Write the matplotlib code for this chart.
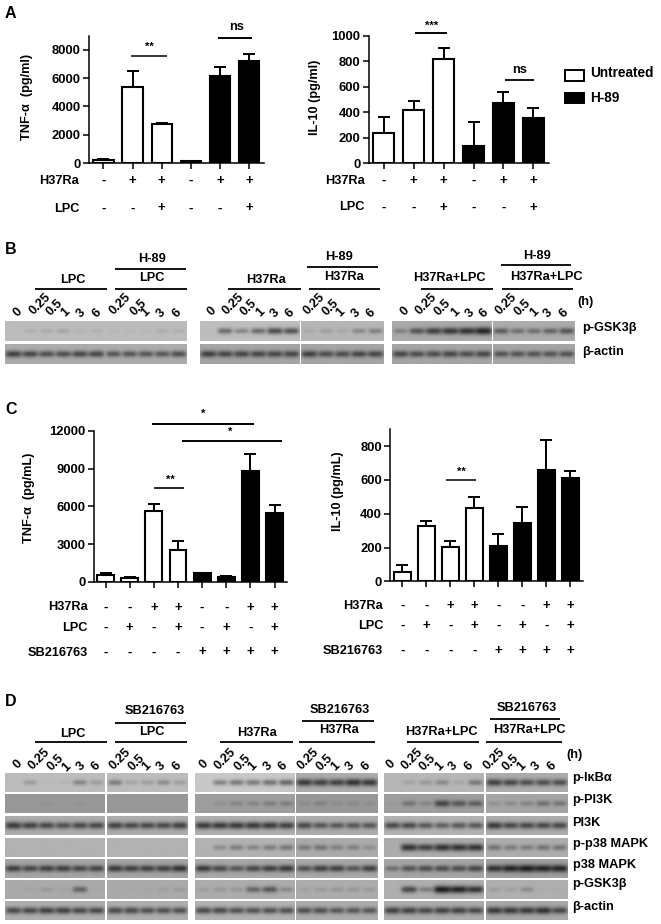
# plot.py
# Four panel figure: bar charts (A, C) and western blot strips (B, D).
import numpy as np
import matplotlib
matplotlib.use("Agg")
import matplotlib.pyplot as plt
from matplotlib.patches import Rectangle
from matplotlib.transforms import blended_transform_factory

plt.rcParams["font.family"] = ["Liberation Sans", "DejaVu Sans"]
plt.rcParams["font.weight"] = "bold"

W, H = 661, 924
# layout x values below were measured in a narrower frame, this maps them to pixels
XS = 1.2647

# --- bar data ---
A_tnf = [200, 5350, 2730, 130, 6130, 7230]
A_tnf_top = [250, 6500, 2830, 170, 6780, 7750]
A_il10 = [235, 420, 820, 135, 475, 355]
A_il10_top = [365, 485, 900, 320, 555, 430]
C_tnf = [570, 320, 5620, 2520, 680, 430, 8800, 5480]
C_tnf_top = [680, 380, 6200, 3250, 740, 500, 10150, 6100]
C_il10 = [55, 325, 205, 435, 210, 345, 660, 610]
C_il10_top = [95, 360, 240, 500, 280, 440, 835, 655]

A_h37 = list("-++-++")
A_lpc = list("--+--+")
C_h37 = list("--++--++")
C_lpc = list("-+-+-+-+")
C_sb = list("----++++")

# --- blot data: band darkness per lane, six groups per row ---
B_rows = {
    "p-GSK3β": [[0, .08, .12, .15, .05, .08], [.03, .03, .03, .1, .08],
                [.02, .5, .35, .5, .7, .65], [.1, .15, .1, .3, .35],
                [.3, .6, .75, .8, .85, .95], [.55, .42, .42, .5, .6]],
    "β-actin": [[.75, .7, .65, .65, .7, .7], [.6, .6, .6, .6, .65],
                [.75, .7, .7, .7, .7, .7], [.75, .65, .65, .7, .7],
                [.7, .65, .65, .7, .65, .7], [.6, .6, .6, .6, .6]],
}
B_bg = {"p-GSK3β": [188, 188, 190, 182, 170, 172], "β-actin": [172, 172, 165, 165, 165, 165]}

D_rows = {
    "p-IκBα": [[0, .2, .02, .05, .35, .2], [.4, .15, .2, .3, .2],
               [0, .4, .45, .45, .5, .55], [.8, .75, .75, .85, .8],
               [0, .12, .2, .3, .1, .4], [.75, .7, .65, .65, .65]],
    "p-PI3K": [[0, 0, .05, 0, .05, 0], [0, 0, 0, 0, 0],
               [0, .1, .2, .2, .25, .25], [.1, .2, .1, .12, .08],
               [.05, .35, .2, .7, .55, .5], [.15, .2, .25, .4, .35]],
    "PI3K": [[.8, .75, .7, .65, .7, .7], [.75, .7, .7, .7, .75],
             [.8, .8, .8, .8, .8, .75], [.7, .6, .6, .6, .6],
             [.7, .7, .6, .55, .6, .6], [.8, .7, .7, .7, .7]],
    "p-p38 MAPK": [[0, 0, 0, 0, 0, 0], [0, 0, 0, 0, 0],
                   [0, .25, .35, .3, .35, .4], [.35, .4, .3, .3, .2],
                   [0, .85, .75, .85, .85, .85], [.4, .35, .35, .4, .4]],
    "p38 MAPK": [[.75, .7, .75, .75, .7, .7], [.8, .75, .75, .75, .85],
                 [.8, .7, .6, .7, .75, .8], [.65, .75, .75, .6, .75],
                 [.4, .6, .65, .65, .65, .7], [.85, .95, 1, .95, .95]],
    "p-GSK3β": [[0, .05, .12, .05, .5, .03], [0, .02, .03, .07, .1],
                [.1, .15, .15, .5, .6, .25], [.08, .12, .15, .15, .12],
                [0, .7, .35, 1, .95, .85], [.12, .1, .25, .02, .02]],
    "β-actin": [[.7, .7, .75, .75, .7, .7], [.7, .7, .65, .65, .65],
                [.7, .7, .65, .65, .65, .65], [.65, .65, .6, .6, .6],
                [.75, .75, .7, .75, .75, .7], [.8, .8, .8, .85, .7]],
}
D_bg = {
    "p-IκBα": [188, 188, 200, 172, 182, 172],
    "p-PI3K": [152, 152, 158, 152, 158, 165],
    "PI3K": [172, 172, 175, 172, 178, 172],
    "p-p38 MAPK": [178, 178, 178, 170, 172, 172],
    "p38 MAPK": [165, 165, 168, 168, 165, 160],
    "p-GSK3β": [170, 170, 172, 172, 175, 175],
    "β-actin": [175, 175, 178, 172, 172, 168],
}

time_labels = ["0", "0.25", "0.5", "1", "3", "6"]

fig = plt.figure(figsize=(W / 100, H / 100), dpi=100)

# overlay for text and lines
ov = fig.add_axes([0, 0, 1, 1], zorder=10)
ov.set_xlim(0, W / XS)
ov.set_ylim(H, 0)
ov.axis("off")
ov.patch.set_alpha(0)


def t(x, y, s, size=9.2, ha="center", rot=0, **kw):
    ov.text(x, y, s, fontsize=size, ha=ha, va="center", rotation=rot,
            rotation_mode="anchor" if rot else "default", **kw)


def hline(x0, x1, y, lw=1.2):
    ov.plot([x0 / 3, x1 / 3], [y, y], color="k", lw=lw, solid_capstyle="butt")


def bars(box, vals, tops, n_black, yticks, ymax, ylabel, ylabel_xy, width, rows):
    x0, x1, ytop, ybot = box
    ax = fig.add_axes([x0 * XS / W, 1 - ybot / H, (x1 - x0) * XS / W, (ybot - ytop) / H])
    n = len(vals)
    pos = np.arange(n)
    colors = ["white"] * (n - n_black) + ["black"] * n_black
    err = np.array(tops) - np.array(vals)
    ax.errorbar(pos, vals, yerr=[np.zeros(n), err], linestyle="none", ecolor="k",
                elinewidth=1.4, capsize=4.5, capthick=1.4, zorder=1)
    ax.bar(pos, vals, width=width, color=colors, edgecolor="k", linewidth=1.5, zorder=2)
    ax.set_xlim(-0.5, n - 0.48)
    ax.set_ylim(0, ymax)
    ax.set_xticks(pos)
    ax.set_xticklabels([])
    ax.set_yticks(yticks)
    ax.tick_params(axis="both", width=1.1, length=4, labelsize=9.4, pad=2)
    for lab in ax.get_yticklabels():
        lab.set_fontweight("bold")
    for side in ["top", "right"]:
        ax.spines[side].set_visible(False)
    for side in ["left", "bottom"]:
        ax.spines[side].set_linewidth(1.1)
    ov.text(ylabel_xy[0], ylabel_xy[1], ylabel, rotation=90, fontsize=9.2,
            ha="center", va="center")
    # +/- rows follow the bar positions
    tr = blended_transform_factory(ax.transData, ov.transData)
    for name, signs, y, right in rows:
        t(right, y, name, ha="right")
        for p, s in zip(pos, signs):
            ov.text(p, y, s, transform=tr, fontsize=9.5, ha="center", va="center")
    return ax


def blot_strip(x0, x1, y0, y1, bg, darkness, band_h=3.0):
    # one gel strip; bands darken a flat background
    nx = int((x1 - x0) * 3)
    ny = int((y1 - y0) * 2)
    n = len(darkness)
    xs = np.linspace(0, n, nx)[None, :]
    ys = np.linspace(y0, y1, ny)[:, None]
    yc = (y0 + y1) / 2
    img = np.full((ny, nx), float(bg))
    for i, d in enumerate(darkness):
        if d <= 0:
            continue
        wid = 0.38 + 0.14 * d
        prof_x = np.exp(-(((xs - (i + 0.5)) / wid) ** 4))
        prof_y = np.exp(-((ys - yc) / (band_h * (0.7 + 0.6 * d))) ** 2)
        img -= d * (bg - 30) * prof_x * prof_y
    ov.imshow(np.clip(img, 30, 255), extent=(x0, x1, y1, y0), cmap="gray", vmin=0, vmax=255,
              aspect="auto", interpolation="bilinear", zorder=1)


def blot_panel(groups, row_y, rows, bgs):
    for (name, dark), (y0, y1) in zip(rows.items(), row_y):
        for g, (x0, x1) in enumerate(groups):
            blot_strip(x0, x1, y0, y1, bgs[name][g], dark[g])
    ov.set_xlim(0, W / XS)
    ov.set_ylim(H, 0)


def times(xy_groups):
    for group in xy_groups:
        labels = time_labels if len(group) == 6 else time_labels[1:]
        for s, (x, y) in zip(labels, group):
            ov.text(x / 3, y, s, fontsize=9.2, ha="center", va="center", rotation=45)


# --- panel A ---
bars((70.3, 209, 36, 163), A_tnf, A_tnf_top, 3, [0, 2000, 4000, 6000, 8000], 8990,
     "TNF-α  (pg/ml)", (21, 97), 0.70,
     [("H37Ra", A_h37, 181, 62.5), ("LPC", A_lpc, 208.5, 62.5)])
bars((291.7, 434, 35.7, 163), A_il10, A_il10_top, 3, [0, 200, 400, 600, 800, 1000], 1000,
     "IL-10 (pg/ml)", (249, 97), 0.70,
     [("H37Ra", A_h37, 181, 288.5), ("LPC", A_lpc, 207.5, 288.5)])
hline(310, 397, 56, 1.1)
t(118, 47, "**", size=8)
hline(516, 598, 38, 1.4)
t(187, 27.5, "ns")
hline(985, 1060, 33.3, 1.4)
t(341, 26, "***", size=8)
hline(1198, 1267, 80, 1.3)
t(411, 70, "ns")
ov.add_patch(Rectangle((447, 69.5), 15, 11.5, fc="white", ec="k", lw=1.4))
ov.add_patch(Rectangle((447, 92.5), 15, 10.5, fc="k", ec="k", lw=1.4))
t(467, 73, "Untreated", size=9.8, ha="left")
t(467, 97.5, "H-89", size=9.8, ha="left")

# --- panel C ---
bars((74, 227, 430.7, 582), C_tnf, C_tnf_top, 4, [0, 3000, 6000, 9000, 12000], 12000,
     "TNF-α  (pg/mL)", (23, 497.5), 0.70,
     [("H37Ra", C_h37, 607.5, 69.5), ("LPC", C_lpc, 628, 69.5), ("SB216763", C_sb, 652.5, 69.5)])
bars((308.7, 460.7, 429.3, 581.3), C_il10, C_il10_top, 4, [0, 200, 400, 600, 800], 900,
     "IL-10 (pg/mL)", (267, 491), 0.70,
     [("H37Ra", C_h37, 606, 303), ("LPC", C_lpc, 626, 303), ("SB216763", C_sb, 651, 303)])
hline(361, 603, 424, 1.4)
t(160.5, 414, "*", size=8)
hline(432, 668, 440.7, 1.4)
t(182, 432, "*", size=8)
hline(366, 436, 488, 1.2)
t(134.5, 480, "**", size=8)
hline(1058, 1128, 480, 1.1)
t(365, 472, "**", size=8)

# --- panel B ---
B_groups = [(4, 82.3), (83.3, 148), (158, 236.3), (237.7, 302.7), (309.7, 388.3), (389.7, 454)]
blot_panel(B_groups, [(321, 340.7), (344.3, 364)], B_rows, B_bg)
for x0, x1 in [(82, 253), (273, 443), (542, 713), (733, 902), (998, 1170), (1190, 1360)]:
    hline(x0, x1, 288.5, 1.3)
hline(273, 441, 269, 1.3)
hline(728, 896, 267.3, 1.3)
hline(1188, 1355, 265, 1.3)
for x, y, s in [(172, 280, "LPC"), (361, 278, "LPC"), (361, 259, "H-89"),
                (630, 280, "H37Ra"), (817, 277, "H37Ra"), (805, 257, "H-89"),
                (1066, 278, "H37Ra+LPC"), (1295, 277, "H37Ra+LPC"), (1273, 256, "H-89")]:
    t(x / 3, y, s)
t(463, 302, "(h)")
t(460, 327.5, "p-GSK3β", ha="left")
t(460, 351.5, "β-actin", ha="left")
times([
    [(43, 312), (95, 304), (130, 308), (155, 312), (192, 313), (230, 313)],
    [(285, 304), (330, 308), (345, 312), (382, 313), (420, 313)],
    [(503, 311), (553, 304), (590, 308), (617, 312), (652, 313), (688, 313)],
    [(745, 304), (785, 308), (808, 312), (845, 313), (880, 313)],
    [(960, 311), (1010, 304), (1050, 308), (1080, 312), (1115, 313), (1147, 313)],
    [(1200, 304), (1240, 308), (1267, 312), (1300, 313), (1337, 313)],
])

# --- panel D ---
D_groups = [(4.3, 83.3), (84.7, 148.3), (154, 232.7), (234, 298.3), (304, 382.7), (384, 448.3)]
D_row_y = [(773.3, 791.7), (795, 813.3), (816.7, 835), (838.3, 856.7),
           (859.3, 878.3), (880.7, 899.3), (901.7, 920)]
blot_panel(D_groups, D_row_y, D_rows, D_bg)
for x0, x1 in [(82, 253), (273, 443), (523, 695), (710, 890), (965, 1137), (1152, 1333)]:
    hline(x0, x1, 742, 1.3)
hline(272, 441, 722.7, 1.3)
hline(716, 886, 720.7, 1.3)
hline(1162, 1328, 719, 1.3)
for x, y, s in [(172, 734, "LPC"), (361, 732, "LPC"), (366, 711, "SB216763"),
                (610, 733, "H37Ra"), (805, 730, "H37Ra"), (806, 710, "SB216763"),
                (1048, 732, "H37Ra+LPC"), (1255, 730, "H37Ra+LPC"), (1249, 708, "SB216763")]:
    t(x / 3, y, s)
t(454, 755, "(h)")
for y, s in [(778, "p-IκBα"), (800.5, "p-PI3K"), (823.5, "PI3K"), (844, "p-p38 MAPK"),
             (865, "p38 MAPK"), (883.5, "p-GSK3β"), (907, "β-actin")]:
    t(452.7, y, s, ha="left")
times([
    [(43, 764), (93, 759), (132, 763), (157, 767), (192, 766), (228, 766)],
    [(285, 759), (325, 763), (347, 766), (382, 766), (419, 766)],
    [(484, 764), (535, 759), (575, 763), (600, 766), (635, 766), (670, 766)],
    [(730, 759), (770, 763), (795, 766), (830, 766), (867, 766)],
    [(927, 764), (977, 759), (1015, 763), (1042, 766), (1075, 766), (1112, 766)],
    [(1172, 759), (1212, 763), (1238, 766), (1272, 766), (1308, 766)],
])

# panel letters
for y, s in [(13, "A"), (249, "B"), (410, "C"), (701, "D")]:
    t(8.5, y, s, size=11.5)

fig.savefig("out.png", dpi=100)
print("Saved: out.png")
